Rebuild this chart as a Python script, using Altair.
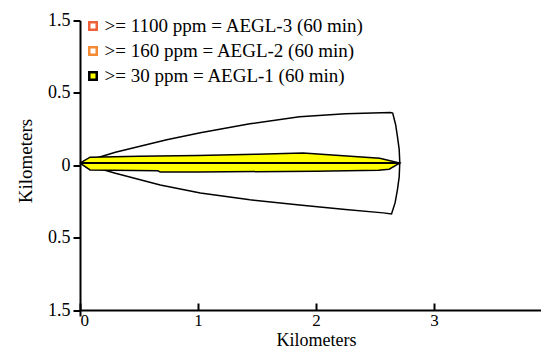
import altair as alt
import pandas as pd

# ---- data (km) ----
# outer wind-direction confidence boundary (closed)
outer_x = [0, 0.3, 0.735, 1.02, 1.44, 1.86, 2.25, 2.63, 2.65, 2.675, 2.69, 2.705, 2.71,
           2.705, 2.69, 2.67, 2.64, 2.57, 2.25, 1.86, 1.44, 1.02, 0.68, 0.3, 0]
outer_y = [0.015, 0.09, 0.176, 0.224, 0.286, 0.335, 0.355, 0.364, 0.36, 0.28, 0.199, 0.11, 0.019,
           -0.08, -0.17, -0.26, -0.336, -0.329, -0.305, -0.274, -0.239, -0.191, -0.136, -0.055, 0.015]

# AEGL-1 threat zone (closed polygon)
aegl1_x = [0, 0.085, 0.5, 1.0, 1.5, 1.89, 2.2, 2.54, 2.71, 2.62, 2.53, 2.0, 1.0,
           0.68, 0.66, 0.085, 0]
aegl1_y = [0.015, 0.056, 0.062, 0.068, 0.076, 0.084, 0.068, 0.049, 0.015, -0.027, -0.035,
           -0.042, -0.046, -0.047, -0.038, -0.032, 0.015]

# downwind centerline
center_x = [0, 2.71]
center_y = [0.015, 0.015]

legend_labels = [">= 1100 ppm = AEGL-3 (60 min)",
                 ">= 160 ppm = AEGL-2 (60 min)",
                 ">= 30 ppm = AEGL-1 (60 min)"]
legend_fill = ["#FFFFFF", "#FFFFFF", "#FFFF00"]
legend_stroke = ["#F0603A", "#F58A35", "#000000"]

x_ticks = [0, 1, 2, 3, 4]
y_ticks = [-1, -0.5, 0, 0.5, 1]

FONT = "Liberation Serif, Times New Roman, Times, serif"

outer_df = pd.DataFrame({"x": outer_x, "y": outer_y, "i": range(len(outer_x))})
aegl1_df = pd.DataFrame({"x": aegl1_x, "y": aegl1_y, "i": range(len(aegl1_x))})
center_df = pd.DataFrame({"x": center_x, "y": center_y, "i": range(len(center_x))})
legend_df = pd.DataFrame({"zone": legend_labels, "x": [None] * 3, "y": [None] * 3})

PLOT_W = 472      # pixel length of the 0-4 km axis (runs past the page edge, as in the reference)
AXIS_H = 289.5    # pixel span between the y ticks at -1 and 1
EXT = 6           # the y axis line runs a little below the x axis
PLOT_H = AXIS_H + EXT

xs = alt.Scale(domain=[0, 4], nice=False, range=[0, PLOT_W])
ys = alt.Scale(domain=[-1 - 2 * EXT / AXIS_H, 1], nice=False)

y_axis = alt.Axis(
    values=y_ticks,
    labelExpr="datum.value == 0 ? '0' : (abs(datum.value) == 1 ? '1.5' : '0.5')",
    title="Kilometers", grid=False, tickSize=7, tickWidth=2, domainWidth=2,
    domainColor="black", tickColor="black", labelColor="black", labelFont=FONT,
    labelFontSize=18, labelPadding=3, titleFont=FONT, titleFontSize=19,
    titleFontWeight="normal", titleColor="black", titleX=-55, titleY=140,
    titleBaseline="middle", titleAngle=-90,
)

x_axis_bottom = alt.Axis(
    offset=-EXT, values=x_ticks, format="d", title="Kilometers", grid=False, ticks=False,
    domainWidth=2, domainColor="black", labelColor="black", labelFont=FONT,
    labelFontSize=17, labelPadding=2, titleFont=FONT, titleFontSize=18,
    titleFontWeight="normal", titleColor="black", titleBaseline="alphabetic",
    titleX=236, titleY=35,
)

x_axis_ticks = alt.Axis(
    orient="top", offset=-AXIS_H, values=x_ticks, labels=False, domain=False,
    grid=False, title=None, ticks=True, tickSize=7, tickWidth=2, tickColor="black",
)

outer = alt.Chart(outer_df).mark_line(color="black", strokeWidth=1.5).encode(
    x=alt.X("x:Q", scale=xs, axis=x_axis_bottom),
    y=alt.Y("y:Q", scale=ys, axis=y_axis),
    order="i:Q",
)

aegl1 = alt.Chart(aegl1_df).mark_line(fill="#FFFF00", stroke="black", strokeWidth=1.5).encode(
    x=alt.X("x:Q", scale=xs, axis=None),
    y=alt.Y("y:Q", scale=ys, axis=y_axis),
    order="i:Q",
)

center = alt.Chart(center_df).mark_line(color="black", strokeWidth=2).encode(
    x=alt.X("x:Q", scale=xs, axis=x_axis_ticks),
    y=alt.Y("y:Q", scale=ys, axis=y_axis),
    order="i:Q",
)

leg = alt.Chart(legend_df).mark_square(size=56, strokeWidth=2.5, opacity=1).encode(
    x=alt.X("x:Q", scale=xs, axis=None),
    y=alt.Y("y:Q", scale=ys, axis=y_axis),
    fill=alt.Fill("zone:N", scale=alt.Scale(domain=legend_labels, range=legend_fill),
                  legend=alt.Legend(title=None, orient="none", legendX=3.5, legendY=-4)),
    stroke=alt.Stroke("zone:N", scale=alt.Scale(domain=legend_labels, range=legend_stroke),
                      legend=alt.Legend(title=None, orient="none", legendX=3.5, legendY=-4)),
)

chart = alt.layer(outer, aegl1, center, leg).resolve_axis(x="independent").properties(
    width=461, height=PLOT_H,
    autosize=alt.AutoSizeParams(type="none"),
    padding={"left": 72, "top": 12.5, "right": 0, "bottom": 39 - EXT},
).configure_view(stroke=None).configure_legend(
    symbolType="square", symbolSize=56, symbolStrokeWidth=2.5, symbolOpacity=1,
    labelFont=FONT, labelFontSize=19, labelColor="black", rowPadding=5, labelOffset=2,
    padding=0, labelLimit=400,
)

chart.save("out.html", embed_options={"renderer": "svg", "actions": False})
